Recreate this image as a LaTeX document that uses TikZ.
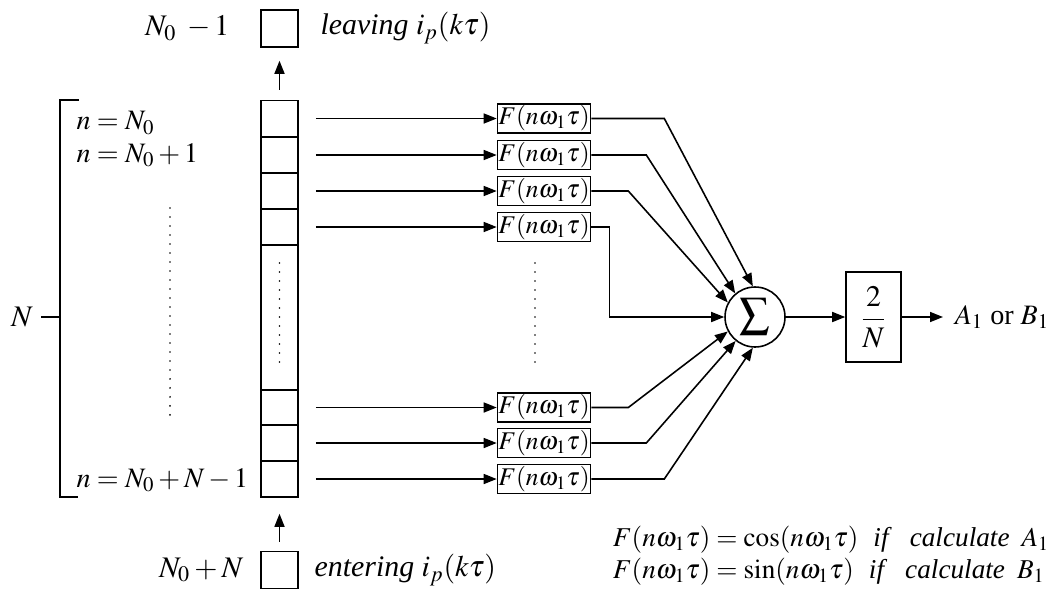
\documentclass[tikz,border=0pt]{standalone}
\usepackage{amsmath}
\usepackage{mathptmx}
\usepackage[no-math]{fontspec}
\setmainfont{Liberation Serif}
\usepackage{tikz}
\usetikzlibrary{arrows.meta,calc,positioning}

\begin{document}
\begin{tikzpicture}[x=0.02cm,y=-0.02cm,line width=0.9pt,
  font=\fontsize{17}{20}\selectfont,
  >={Triangle[length=0.26cm,width=0.2cm]},
  cell/.style={draw,minimum width=0.74cm,minimum height=0.72cm,inner sep=0pt},
  fbox/.style={draw,minimum width=1.84cm,minimum height=0.58cm,inner sep=0.5pt,font=\fontsize{14.5}{16}\selectfont},
  idx/.style={anchor=west,font=\fontsize{16}{19}\selectfont},
  dotline/.style={line width=1.1pt,line cap=round,dash pattern=on 0pt off 0.18cm}]
\useasboundingbox (0,0) rectangle (1060,592);
% 1: the register of N samples
\foreach \i/\y in {1/118.5,2/155,3/191,4/227,5/407.5,6/443,7/479} {
 \node[cell] (c\i) at (279.5,\y) {};
 \node[fbox] (f\i) at (544,\y) {$F(n\omega_1\tau)$};
 \draw[->,shorten <=0.34cm] (c\i) -- (f\i);
}
\node[draw,minimum width=0.74cm,minimum height=2.9cm,inner sep=0pt] (mid) at (279.5,317.5) {};
\draw[dotline] (279.5,263) -- (279.5,366);
\draw[dotline] (535,263) -- (535,366);
% 2: samples leaving and entering
\node[cell,minimum height=0.74cm] (old) at (279.5,28.5) {};
\node[cell,minimum height=0.74cm] (new) at (279.5,570) {};
\draw[->,shorten <=0.2cm,shorten >=0.26cm] (c1.north) -- (old.south);
\draw[->,shorten <=0.18cm,shorten >=0.32cm] (new.north) -- (c7.south);
\node[anchor=east] (oldlab) at (236,28) {$N_0\;-1$};
\node[anchor=west] (leave) at (314,28) {\textit{leaving} $i_p(k\tau)$};
\node[anchor=east] (newlab) at (250,570) {$N_0+N$};
\node[anchor=west] (enter) at (308,570) {\textit{entering} $i_p(k\tau)$};
% 3: the bracket over the indices
\draw (79,100) -- (60,100) -- (60,497) -- (78,497);
\node (Nlab) at (22,317) {$N$};
\draw (41,317) -- (60,317);
\node[idx] (n1) at (70,123) {$n=N_0$};
\node[idx] (n2) at (70,155) {$n=N_0+1$};
\node[idx] (nN) at (70,480) {$n=N_0+N-1$};
\draw[dotline] (170,208) -- (170,422);
% 4: summing and scaling
\node[draw,circle,minimum size=1.2cm,inner sep=0pt] (sigma) at (755,317) {$\displaystyle\sum$};
\foreach \i/\dx/\a in {1/73/94,2/55/130,3/37/152,5/37/208,6/55/231,7/73/266}
 \draw[->] (f\i.east) -- ++(\dx,0) -- (sigma.\a);
\draw[->] (f4.east) -- ++(18,0) |- (sigma.west);
\node[draw,minimum width=1.1cm,minimum height=1.8cm,inner sep=0pt] (gain) at (873.5,317) {$\dfrac{2}{N}$};
\node[anchor=west,inner sep=0pt,inner xsep=0.22cm,font=\fontsize{16}{19}\selectfont] (out) at (943,317) {$A_1$ or $B_1$};
\draw[->] (sigma) -- (gain);
\draw[->] (gain) -- (out);
% 5: which function
\begin{scope}[font=\fontsize{15.5}{18}\selectfont]
\node[anchor=west,inner sep=0pt] (cosrow) at (612,540) {$F(n\omega_1\tau)=\cos(n\omega_1\tau)$\hspace{0.3cm}\textit{if}\hspace{0.36cm}\textit{calculate}\hspace{0.24cm}$A_1$};
\node[anchor=west,inner sep=0pt] (sinrow) at (612,572) {$F(n\omega_1\tau)=\sin(n\omega_1\tau)$\hspace{0.3cm}\textit{if}\hspace{0.36cm}\textit{calculate}\hspace{0.24cm}$B_1$};
\end{scope}
\end{tikzpicture}
\end{document}
